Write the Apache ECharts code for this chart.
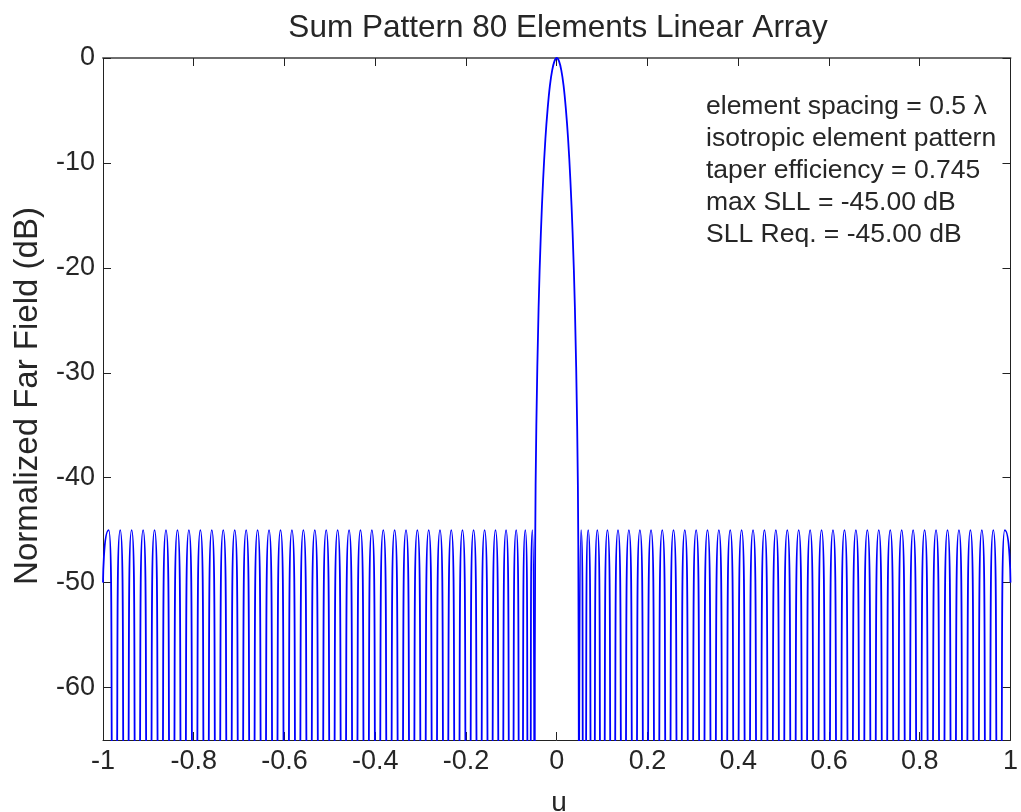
<!DOCTYPE html>
<html>
<head>
<meta charset="utf-8">
<script src="https://cdn.jsdelivr.net/npm/echarts@6/dist/echarts.min.js"></script>
<style>
html,body{margin:0;padding:0;background:#fff;}
#chart{width:1021px;height:812px;}
</style>
</head>
<body>
<div id="chart"></div>
<script>
// ---- data ----
const titleText = 'Sum Pattern 80 Elements Linear Array';
const xName = 'u';
const yName = 'Normalized Far Field (dB)';
const notes = [
  'element spacing = 0.5 \u03bb',
  'isotropic element pattern',
  'taper efficiency = 0.745',
  'max SLL = -45.00 dB',
  'SLL Req. = -45.00 dB'
];
const xTicks = [-1, -0.8, -0.6, -0.4, -0.2, 0, 0.2, 0.4, 0.6, 0.8, 1];
const yTicks = [0, -10, -20, -30, -40, -50, -60];

// left sidelobe region (u, dB): edge, then alternating peak / null
const leftU = [-1.0, -0.9874, -0.9748, -0.9621, -0.9495, -0.9369, -0.9243, -0.9116, -0.8990, -0.8864,
  -0.8738, -0.8612, -0.8485, -0.8359, -0.8233, -0.8107, -0.7980, -0.7854, -0.7728, -0.7602,
  -0.7476, -0.7350, -0.7223, -0.7097, -0.6971, -0.6845, -0.6719, -0.6593, -0.6467, -0.6341,
  -0.6214, -0.6088, -0.5962, -0.5836, -0.5710, -0.5584, -0.5458, -0.5332, -0.5206, -0.5081,
  -0.4955, -0.4829, -0.4703, -0.4577, -0.4451, -0.4326, -0.4200, -0.4074, -0.3949, -0.3823,
  -0.3698, -0.3573, -0.3447, -0.3322, -0.3197, -0.3072, -0.2947, -0.2822, -0.2698, -0.2573,
  -0.2449, -0.2325, -0.2201, -0.2078, -0.1955, -0.1833, -0.1711, -0.1590, -0.1469, -0.1350,
  -0.1233, -0.1117, -0.1004, -0.0894, -0.0790, -0.0693, -0.0606, -0.0536, -0.0490];
const leftDb = [-50, -45, -75, -45, -75, -45, -75, -45, -75, -45,
  -75, -45, -75, -45, -75, -45, -75, -45, -75, -45,
  -75, -45, -75, -45, -75, -45, -75, -45, -75, -45,
  -75, -45, -75, -45, -75, -45, -75, -45, -75, -45,
  -75, -45, -75, -45, -75, -45, -75, -45, -75, -45,
  -75, -45, -75, -45, -75, -45, -75, -45, -75, -45,
  -75, -45, -75, -45, -75, -45, -75, -45, -75, -45,
  -75, -45, -75, -45, -75, -45, -75, -45, -75];

// main beam
const mainU = [-0.0475, -0.045, -0.04, -0.035, -0.03, -0.025, -0.02, -0.015, -0.01, -0.005, 0,
  0.005, 0.01, 0.015, 0.02, 0.025, 0.03, 0.035, 0.04, 0.045, 0.0475];
const mainDb = [-46.4, -35.1, -23.8, -16.7, -11.6, -7.7, -4.8, -2.6, -1.15, -0.3, 0,
  -0.3, -1.15, -2.6, -4.8, -7.7, -11.6, -16.7, -23.8, -35.1, -46.4];

// right sidelobe region: null, then alternating peak / null, edge
const rightU = [0.0490, 0.0536, 0.0606, 0.0693, 0.0790, 0.0894, 0.1004, 0.1117, 0.1233, 0.1350,
  0.1469, 0.1590, 0.1711, 0.1833, 0.1955, 0.2078, 0.2201, 0.2325, 0.2449, 0.2573,
  0.2698, 0.2822, 0.2947, 0.3072, 0.3197, 0.3322, 0.3447, 0.3573, 0.3698, 0.3823,
  0.3949, 0.4074, 0.4200, 0.4326, 0.4451, 0.4577, 0.4703, 0.4829, 0.4955, 0.5081,
  0.5206, 0.5332, 0.5458, 0.5584, 0.5710, 0.5836, 0.5962, 0.6088, 0.6214, 0.6341,
  0.6467, 0.6593, 0.6719, 0.6845, 0.6971, 0.7097, 0.7223, 0.7350, 0.7476, 0.7602,
  0.7728, 0.7854, 0.7980, 0.8107, 0.8233, 0.8359, 0.8485, 0.8612, 0.8738, 0.8864,
  0.8990, 0.9116, 0.9243, 0.9369, 0.9495, 0.9621, 0.9748, 0.9874, 1.0];
const rightDb = [-75, -45, -75, -45, -75, -45, -75, -45, -75, -45,
  -75, -45, -75, -45, -75, -45, -75, -45, -75, -45,
  -75, -45, -75, -45, -75, -45, -75, -45, -75, -45,
  -75, -45, -75, -45, -75, -45, -75, -45, -75, -45,
  -75, -45, -75, -45, -75, -45, -75, -45, -75, -45,
  -75, -45, -75, -45, -75, -45, -75, -45, -75, -45,
  -75, -45, -75, -45, -75, -45, -75, -45, -75, -45,
  -75, -45, -75, -45, -75, -45, -75, -45, -50];

// ---- build chart ----
const toPts = (us, ds) => us.map((u, i) => [u, ds[i]]);
const leftPts = toPts(leftU, leftDb);
const rightPts = toPts(rightU, rightDb);
// main beam joined to the first nulls on each side
const mainPts = [leftPts[leftPts.length - 1]].concat(toPts(mainU, mainDb), [rightPts[0]]);

const FONT = '"Liberation Sans", Arial, Helvetica, sans-serif';
const TXT = '#262626';
const GRID = {left: 103, right: 6, top: 58, bottom: 72};
const BLUE = '#0000ff';

const chart = echarts.init(document.getElementById('chart'), null, {renderer: 'canvas'});
const tick = vals => ({show: true, inside: true, length: 8, customValues: vals, lineStyle: {color: '#222', width: 1}});
const line = (c, w) => ({show: true, onZero: false, lineStyle: {color: c, width: w}});
const lobeSeries = data => ({
  type: 'line', data: data, showSymbol: false, smooth: 0.9, smoothMonotone: 'x', clip: true,
  lineStyle: {color: BLUE, width: 1.8}, emphasis: {disabled: true}, silent: true
});

chart.setOption({
  animation: false,
  backgroundColor: '#fff',
  grid: Object.assign({containLabel: false}, GRID),
  xAxis: [
    {type: 'value', min: -1, max: 1, position: 'bottom',
      axisLine: line('#222', 1), axisTick: tick(xTicks), splitLine: {show: false},
      axisLabel: {show: true, customValues: xTicks, color: TXT, fontSize: 27, fontFamily: FONT, margin: 8,
        formatter: v => String(Math.round(v * 10) / 10)}},
    {type: 'value', min: -1, max: 1, position: 'top',
      axisLine: line('#6e6e6e', 2), axisTick: tick(xTicks), splitLine: {show: false},
      axisLabel: {show: false}}
  ],
  yAxis: [
    {type: 'value', min: -65, max: 0, position: 'left',
      axisLine: line('#222', 1), axisTick: tick(yTicks), splitLine: {show: false},
      axisLabel: {show: true, customValues: yTicks, color: TXT, fontSize: 27, fontFamily: FONT, margin: 8}},
    {type: 'value', min: -65, max: 0, position: 'right',
      axisLine: line('#222', 1), axisTick: tick(yTicks), splitLine: {show: false},
      axisLabel: {show: false}}
  ],
  series: [
    lobeSeries(leftPts),
    {type: 'line', data: mainPts, showSymbol: false, smooth: 0.35, clip: true,
      lineStyle: {color: BLUE, width: 1.8}, emphasis: {disabled: true}, silent: true},
    lobeSeries(rightPts)
  ],
  graphic: [
    {type: 'text', x: 558, y: 28,
      style: {text: titleText, font: '31.5px ' + FONT, fill: TXT, align: 'center', verticalAlign: 'middle'}},
    {type: 'text', x: 28, y: 396, rotation: Math.PI / 2,
      style: {text: yName, font: '33px ' + FONT, fill: TXT, align: 'center', verticalAlign: 'middle'}},
    {type: 'text', x: 559, y: 803,
      style: {text: xName, font: '28px ' + FONT, fill: TXT, align: 'center', verticalAlign: 'middle'}},
    {type: 'text', x: 706, y: 91,
      style: {text: notes.join('\n'), font: '26.5px ' + FONT, fill: TXT, lineHeight: 32, align: 'left', verticalAlign: 'top'}}
  ]
});
</script>
</body>
</html>
